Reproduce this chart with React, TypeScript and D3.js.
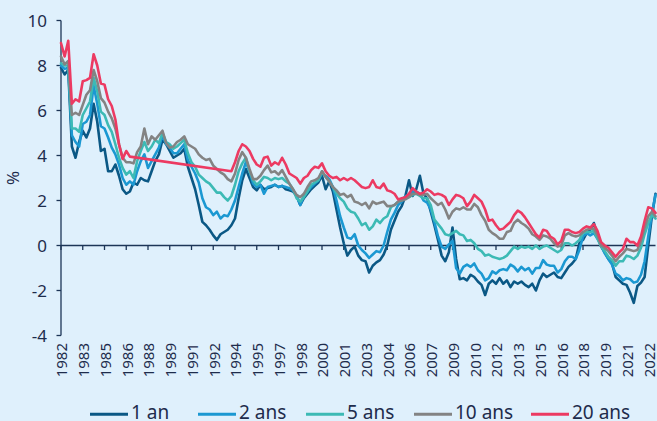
import React from "react";
import * as d3 from "d3";

// Quarterly observations, 1982 Q1 .. 2023 Q1
const startYear = 1982;
const stepYears = 0.25;

const oneYear = [
  7.9, 7.6, 7.8, 4.4, 3.9, 4.6, 5.1, 4.8, 5.2, 6.3, 5.5, 4.2, 4.3, 3.3, 3.3, 3.6,
  3.1, 2.5, 2.3, 2.4, 2.8, 2.7, 3.0, 2.9, 2.85, 3.3, 3.75, 4.05, 4.7, 4.5, 4.2, 3.9,
  4.0, 4.1, 4.3, 3.5, 3.0, 2.5, 1.8, 1.05, 0.9, 0.7, 0.45, 0.25, 0.5, 0.6, 0.7, 0.9,
  1.2, 2.1, 2.9, 3.4, 3.0, 2.6, 2.45, 2.7, 2.5, 2.55, 2.6, 2.7, 2.6, 2.65, 2.5, 2.45,
  2.4, 2.2, 1.8, 2.1, 2.3, 2.5, 2.65, 2.8, 3.1, 2.5, 2.85, 2.4, 1.6, 0.8, 0.1, -0.45,
  -0.2, -0.05, -0.45, -0.65, -0.7, -1.2, -0.9, -0.75, -0.65, -0.4, 0.0, 0.7, 1.1, 1.5, 1.75, 2.2,
  2.9, 2.2, 2.5, 3.1, 2.3, 2.1, 1.5, 0.9, 0.25, -0.45, -0.7, -0.3, 0.8, -0.6, -1.5, -1.45,
  -1.55, -1.3, -1.4, -1.6, -1.75, -2.2, -1.7, -1.55, -1.7, -1.45, -1.7, -1.55, -1.85, -1.6, -1.7, -1.6,
  -1.75, -1.85, -1.7, -2.0, -1.55, -1.25, -1.4, -1.3, -1.2, -1.4, -1.45, -1.2, -0.95, -0.8, -0.6, 0.1,
  0.25, 0.55, 0.7, 1.0, 0.45, -0.05, -0.3, -0.6, -0.8, -1.4, -1.55, -1.7, -1.75, -2.1, -2.55, -1.8,
  -1.65, -1.4, 0.0, 1.3, 2.3,
];

const twoYears = [
  8.0, 7.85, 7.9, 4.9, 4.6, 4.4, 5.4, 5.5, 5.8, 7.1, 6.3, 5.3, 5.2, 4.8, 4.35, 4.05,
  3.6, 3.0, 2.7, 2.85, 2.7, 3.3, 3.75, 4.05, 3.45, 3.75, 4.05, 4.35, 4.9, 4.5, 4.35, 4.1,
  4.1, 4.3, 4.5, 3.8, 3.5, 3.2, 2.8, 2.1, 1.7, 1.6, 1.35, 1.5, 1.2, 1.35, 1.3, 1.6,
  2.0, 2.6, 3.2, 3.7, 3.3, 2.75, 2.6, 2.7, 2.3, 2.6, 2.65, 2.7, 2.6, 2.65, 2.6, 2.55,
  2.45, 2.2, 1.8, 2.2, 2.4, 2.6, 2.75, 2.9, 3.2, 3.1, 2.95, 2.6, 2.0, 1.3, 0.8, 0.35,
  0.3, 0.5, 0.0, -0.2, -0.35, -0.55, -0.4, -0.25, -0.3, 0.0, 0.6, 1.15, 1.45, 1.8, 1.95, 2.2,
  2.2, 2.4, 2.4, 2.3, 2.0, 1.9, 1.6, 1.05, 0.4, -0.05, -0.15, 0.05, 0.2, -1.0, -1.25, -0.95,
  -0.85, -0.95, -0.8, -1.1, -1.25, -1.55, -1.45, -1.15, -1.25, -1.1, -1.05, -1.1, -0.85, -0.95, -1.15, -0.95,
  -1.1, -1.0, -1.25, -1.0, -1.0, -0.65, -0.85, -0.9, -0.9, -1.2, -1.05, -0.7, -0.5, -0.5, -0.6, -0.2,
  0.4, 0.55, 0.45, 0.55, 0.3, 0.0, -0.35, -0.6, -0.85, -1.25, -1.35, -1.55, -1.45, -1.5, -1.65, -1.6,
  -1.3, -0.7, 0.4, 1.4, 2.25,
];

const fiveYears = [
  8.1, 8.0, 8.0, 5.2, 5.2, 5.05, 5.8, 6.1, 6.4, 7.45, 6.85, 5.95, 5.8, 5.35, 5.05, 4.5,
  3.9, 3.45, 3.15, 3.3, 3.0, 3.75, 4.2, 4.6, 4.2, 4.4, 4.7, 4.55, 5.0, 4.6, 4.5, 4.3,
  4.4, 4.55, 4.7, 4.1, 3.7, 3.5, 3.15, 3.0, 2.85, 2.75, 2.55, 2.35, 2.35, 2.15, 2.0, 2.2,
  2.7, 3.3, 3.65, 3.9, 3.3, 2.9, 2.7, 2.85, 3.05, 3.0, 2.9, 3.0, 2.95, 3.0, 2.85, 2.75,
  2.5, 2.1, 1.95, 2.15, 2.4, 2.7, 2.8, 2.9, 3.3, 3.05, 2.85, 2.6, 2.3, 2.1, 1.95, 1.65,
  1.5, 1.45, 1.2, 0.9, 1.0, 0.7, 0.85, 1.15, 1.0, 1.2, 1.3, 1.7, 1.8, 1.95, 2.0, 2.1,
  2.15, 2.25, 2.3, 2.2, 2.1, 2.1, 1.8, 1.15, 0.95, 0.75, 0.5, 0.45, 0.55, 0.65, 0.5, 0.45,
  0.2, 0.25, 0.1, -0.15, -0.25, -0.45, -0.4, -0.5, -0.55, -0.6, -0.55, -0.45, -0.25, -0.05, -0.15, -0.05,
  -0.1, -0.05, -0.15, 0.0, -0.15, -0.05, 0.0, -0.1, -0.2, -0.3, -0.2, 0.1, 0.1, 0.0, 0.1, 0.25,
  0.55, 0.6, 0.6, 0.65, 0.3, -0.05, -0.25, -0.5, -0.65, -0.9, -0.7, -0.7, -0.45, -0.5, -0.6, -0.45,
  -0.1, 0.5, 1.0, 1.35, 1.2,
];

const tenYears = [
  8.4, 8.05, 8.2, 5.8, 5.9, 5.8, 6.25, 6.7, 6.9, 7.8, 7.3, 6.55, 6.35, 5.95, 5.65, 5.2,
  4.5, 3.9, 3.7, 3.7, 3.65, 4.15, 4.4, 5.2, 4.5, 4.85, 4.7, 4.9, 5.1, 4.55, 4.35, 4.4,
  4.6, 4.7, 4.85, 4.5, 4.4, 4.3, 4.05, 3.9, 3.8, 3.85, 3.55, 3.4, 3.25, 3.15, 2.95, 2.85,
  3.2, 3.8, 4.15, 3.9, 3.4, 2.95, 2.95, 3.1, 3.35, 3.55, 3.25, 3.3, 3.15, 3.35, 3.05, 2.75,
  2.5, 2.25, 2.15, 2.3, 2.6, 2.85, 2.9, 3.0, 3.3, 3.05, 2.85, 2.6, 2.45, 2.25, 2.3, 2.15,
  2.25, 1.95, 1.9, 1.8, 1.9, 1.65, 1.95, 1.85, 1.9, 1.95, 1.75, 1.75, 1.8, 1.95, 2.0, 2.05,
  2.15, 2.3, 2.3, 2.25, 2.25, 2.3, 2.1, 1.95, 1.8, 1.9, 1.6, 1.2, 1.5, 1.65, 1.6, 1.7,
  1.6, 1.6, 1.85, 1.7, 1.35, 1.1, 0.7, 0.55, 0.45, 0.3, 0.3, 0.6, 0.65, 1.0, 1.15, 1.0,
  0.9, 0.75, 0.5, 0.4, 0.25, 0.45, 0.4, 0.3, 0.1, -0.05, 0.0, 0.45, 0.55, 0.45, 0.4, 0.45,
  0.6, 0.7, 0.75, 0.75, 0.45, 0.0, -0.1, -0.25, -0.45, -0.7, -0.5, -0.35, -0.15, -0.2, -0.25, -0.2,
  0.2, 0.8, 1.3, 1.5, 1.3,
];

const twentyYears = [
  9.0, 8.4, 9.1, 6.3, 6.5, 6.4, 7.3, 7.35, 7.45, 8.5, 8.0, 7.2, 7.15, 6.5, 6.2, 5.6,
  4.5, 3.85, 4.2, 3.95, null, null, null, null, null, null, null, null, null, null, null, null,
  null, null, null, null, null, null, null, null, null, null, null, null, null, null, null, 3.3,
  3.7, 4.2, 4.5, 4.4, 4.2, 3.85, 3.6, 3.5, 3.9, 3.95, 3.55, 3.7, 3.6, 3.9, 3.6, 3.2,
  3.1, 3.0, 2.75, 3.0, 3.1, 3.35, 3.5, 3.45, 3.65, 3.3, 3.1, 3.0, 3.05, 2.9, 3.0, 2.9,
  3.0, 2.9, 2.75, 2.6, 2.55, 2.6, 2.9, 2.6, 2.55, 2.75, 2.45, 2.4, 2.3, 2.05, 2.1, 2.15,
  2.3, 2.55, 2.4, 2.3, 2.35, 2.5, 2.4, 2.25, 2.3, 2.25, 2.15, 1.8, 2.05, 2.25, 2.2, 2.1,
  1.75, 1.95, 2.25, 2.1, 1.95, 1.6, 1.1, 1.15, 0.9, 0.7, 0.75, 0.9, 1.05, 1.35, 1.55, 1.45,
  1.25, 1.0, 0.75, 0.5, 0.35, 0.7, 0.65, 0.4, 0.3, 0.05, 0.2, 0.7, 0.7, 0.6, 0.55, 0.6,
  0.75, 0.85, 0.8, 0.95, 0.65, 0.15, 0.0, -0.1, -0.3, -0.5, -0.3, -0.15, 0.3, 0.15, 0.15, 0.0,
  0.4, 1.1, 1.7, 1.65, 1.45,
];

const seriesNames = ["1 an", "2 ans", "5 ans", "10 ans", "20 ans"];
const seriesValues = [oneYear, twoYears, fiveYears, tenYears, twentyYears];
const seriesColors = ["#0b5885", "#1b98d2", "#3cbab5", "#838383", "#ec3a62"];

const yTicks = [-4, -2, 0, 2, 4, 6, 8, 10];
const xTickLabels = [
  "1982", "1983", "1985", "1986", "1988", "1989", "1991", "1992", "1994", "1995",
  "1997", "1998", "2000", "2001", "2003", "2004", "2006", "2007", "2009", "2010",
  "2012", "2013", "2015", "2016", "2018", "2019", "2021", "2022",
];
const xTickStep = 1.5;

const W = 657;
const H = 421;
const FONT = "'Noto Sans', 'Open Sans', sans-serif";
const TEXT = "#1e2c4c";
const AXIS = "#1d3557";
const BG = "#dff0fc";

export default function App() {
  const x = d3.scaleLinear().domain([1982, 2023]).range([61, 655.5]);
  const y = d3.scaleLinear().domain([-4, 10]).range([335.5, 20.5]);

  const line = d3
    .line<[number, number | null]>()
    .defined((d) => d[1] !== null)
    .x((d) => x(d[0]))
    .y((d) => y(d[1] as number));

  const series = seriesValues.map((vals) => {
    const pts: [number, number | null][] = vals.map((v, i) => [startYear + i * stepYears, v]);
    // connect across gaps like the source (straight segment)
    return pts.filter((p) => p[1] !== null);
  });

  const y0 = y(0);
  const legendSwatchX = [90, 198, 306, 414, 531];

  return (
    <svg
      width={W}
      height={H}
      style={{ position: "absolute", left: 0, top: 0, display: "block" }}
      fontFamily={FONT}
    >
      <rect x={0} y={0} width={W} height={H} fill={BG} />

      {/* Y axis */}
      <line x1={61} x2={61} y1={y(10)} y2={y(-4)} stroke={AXIS} strokeWidth={1.3} />
      {yTicks.map((t) => (
        <g key={t}>
          <line x1={56.5} x2={61} y1={y(t)} y2={y(t)} stroke={AXIS} strokeWidth={1.3} />
          <text
            x={47}
            y={y(t)}
            dy="0.36em"
            textAnchor="end"
            fontSize={17}
            fill={TEXT}
          >
            {t}
          </text>
        </g>
      ))}
      <text
        transform={`translate(19, 178) rotate(-90)`}
        textAnchor="middle"
        fontSize={17}
        fill={TEXT}
      >
        %
      </text>

      {/* X axis at zero */}
      <line x1={61} x2={655.5} y1={y0} y2={y0} stroke={AXIS} strokeWidth={1.3} />
      {xTickLabels.map((lab, i) => {
        const tx = x(startYear + i * xTickStep);
        return (
          <g key={lab}>
            <line x1={tx} x2={tx} y1={y0} y2={y0 + 4.5} stroke={AXIS} strokeWidth={1.3} />
            <text
              transform={`translate(${tx + 1}, 343) rotate(-90)`}
              dy="0.36em"
              textAnchor="end"
              fontSize={15}
              fill={TEXT}
            >
              {lab}
            </text>
          </g>
        );
      })}

      {/* Series */}
      {series.map((pts, i) => (
        <path
          key={seriesNames[i]}
          d={line(pts) || ""}
          fill="none"
          stroke={seriesColors[i]}
          strokeWidth={2.6}
          strokeLinejoin="round"
          strokeLinecap="round"
        />
      ))}

      {/* Legend */}
      {seriesNames.map((name, i) => (
        <g key={name}>
          <line
            x1={legendSwatchX[i]}
            x2={legendSwatchX[i] + 38}
            y1={414.2}
            y2={414.2}
            stroke={seriesColors[i]}
            strokeWidth={3}
          />
          <text x={legendSwatchX[i] + 41} y={419} fontSize={19} fill={TEXT}>
            {name}
          </text>
        </g>
      ))}
    </svg>
  );
}
